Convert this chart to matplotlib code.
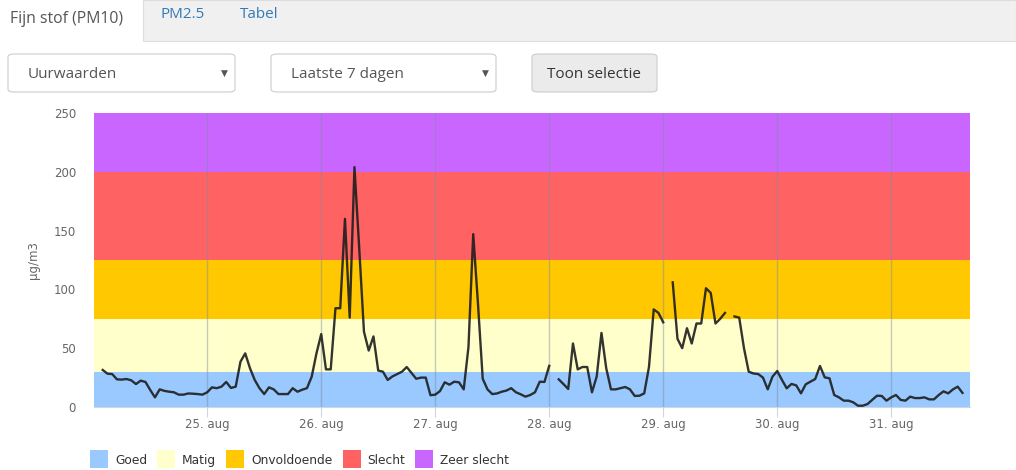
import numpy as np
import pandas as pd
import matplotlib
matplotlib.use('Agg')
import matplotlib.pyplot as plt
from matplotlib.patches import Rectangle, FancyBboxPatch

# hourly PM10 values (µg/m3), first value at 24 aug 02:00, None = no measurement
start = '2016-08-24 02:00'
pm10 = [
    31.5, 28.3, 28, 23.5, 23.3, 23.8, 22.7, 19.5, 22.4, 21.3,
    14.5, 8.2, 15, 13.7, 13, 12.5, 10.5, 10.5, 11.5, 11.3,
    11, 10.5, 12.5, 16.7, 16, 17.3, 21.3, 16.2, 17.3, 38.5,
    45.6, 33, 23, 16, 11, 16.7, 15, 11, 11, 11,
    16, 13, 14.7, 16, 25.8, 45.6, 62, 32, 32, 84,
    84, 160, 76, 204, 135, 64, 48, 60, 31, 30,
    23, 26, 28, 30, 34, 29, 24, 25, 25, 10,
    10.5, 13.5, 21, 19, 21.5, 21, 15, 51, 147, 88,
    24, 15, 11, 11.5, 13, 14, 16, 12.5, 10.8, 8.8,
    10.2, 12.5, 21.5, 21.3, 35, None, 23.5, 19.5, 15.3, 54,
    32, 34, 34, 12.5, 26, 63, 33, 15, 15, 16,
    17, 15, 9.4, 9.6, 11.6, 34, 83, 80, 72, None,
    106, 58, 50, 67, 54, 71, 71, 101, 97, 71,
    75, 80, None, 77, 76, 50, 30, 28.5, 28, 25,
    15, 25.8, 30.6, 23, 15.9, 19.6, 18.4, 11.6, 19.3, 21.5,
    23.8, 34.9, 25.2, 24.4, 10.2, 8.2, 5.4, 5.4, 4, 1.1,
    1.1, 2.5, 6, 9.6, 9.4, 5.4, 8.2, 10.2, 6, 5.4,
    8.8, 7.6, 7.6, 8.2, 6.5, 6.5, 10.2, 13.3, 11.6, 15,
    17.3, 12,
]

band_names = ['Goed', 'Matig', 'Onvoldoende', 'Slecht', 'Zeer slecht']
band_edges = [0, 30, 75, 125, 200, 250]
band_colors = ['#99c9ff', '#ffffcc', '#ffc800', '#ff6262', '#c966ff']

day_ticks = ['2016-08-25', '2016-08-26', '2016-08-27', '2016-08-28',
             '2016-08-29', '2016-08-30', '2016-08-31']
y_ticks = [0, 50, 100, 150, 200, 250]

W, H = 1016, 470
plt.rcParams['font.family'] = ['DejaVu Sans']
fig = plt.figure(figsize=(W / 100, H / 100), dpi=100)


def box(x, y, w, h):
    # pixel box (top-left origin) -> figure fraction
    return x / W, 1 - (y + h) / H, w / W, h / H


# --- page controls above the chart ---
bx, by, bw, bh = box(143, 0, W - 143, 41)
fig.patches.append(Rectangle((bx, by), bw, bh, transform=fig.transFigure,
                             fc='#f0f0f0', ec='#dddddd', lw=0.8))
fig.text(10 / W, 1 - 19 / H, 'Fijn stof (PM10)', fontsize=11.3, color='#555555',
         family='Open Sans', va='center')
fig.text(160 / W, 1 - 14 / H, 'PM2.5', fontsize=11, color='#337ab7',
         family='Open Sans', va='center')
fig.text(240 / W, 1 - 14 / H, 'Tabel', fontsize=11, color='#337ab7',
         family='Open Sans', va='center')

for x0, w0, label in [(8, 227, 'Uurwaarden'), (271, 225, 'Laatste 7 dagen')]:
    bx, by, bw, bh = box(x0, 54, w0, 38)
    fig.patches.append(FancyBboxPatch((bx, by), bw, bh, transform=fig.transFigure,
                                      boxstyle='round,pad=0,rounding_size=0.006',
                                      fc='white', ec='#cccccc', lw=0.8))
    fig.text((x0 + 20) / W, 1 - 74 / H, label, fontsize=11, color='#555555',
             family='Open Sans', va='center')
    fig.text((x0 + w0 - 11) / W, 1 - 73 / H, '▼', fontsize=6.5, color='#555555',
             ha='center', va='center')

bx, by, bw, bh = box(532, 54, 125, 38)
fig.patches.append(FancyBboxPatch((bx, by), bw, bh, transform=fig.transFigure,
                                  boxstyle='round,pad=0,rounding_size=0.006',
                                  fc='#ebebeb', ec='#cccccc', lw=0.8))
fig.text(594 / W, 1 - 74 / H, 'Toon selectie', fontsize=11, color='#333333',
         family='Open Sans', ha='center', va='center')

# --- chart ---
ax = fig.add_axes(box(94, 113, 876, 294))
for lo, hi, c in zip(band_edges[:-1], band_edges[1:], band_colors):
    ax.axhspan(lo, hi, color=c, lw=0, zorder=0)

times = pd.date_range(start, periods=len(pm10), freq='h')
vals = np.array([np.nan if v is None else v for v in pm10], dtype=float)
ax.plot(times, vals, color='#1e1e1e', lw=1.7, alpha=0.9, zorder=3)

ticks = pd.to_datetime(day_ticks)
ax.set_xticks(ticks)
ax.set_xticklabels([f'{d.day}. aug' for d in ticks])
ax.set_xlim(pd.Timestamp('2016-08-24 00:10'), pd.Timestamp('2016-08-31 16:35'))
ax.set_ylim(0, 250)
ax.set_yticks(y_ticks)
ax.grid(axis='x', color='#7f8aa0', alpha=0.45, lw=1, zorder=1)
ax.set_axisbelow(False)

for s in ['top', 'right', 'left']:
    ax.spines[s].set_visible(False)
ax.spines['bottom'].set_color('#ccd6eb')
ax.tick_params(axis='y', length=0, pad=13, labelsize=8.5, labelcolor='#666666')
ax.tick_params(axis='x', length=7, color='#ccd6eb', pad=1, labelsize=8.5,
               labelcolor='#666666')
ax.set_ylabel('µg/m3', fontsize=8.5, color='#666666', labelpad=10)

# legend row below the chart, laid out item by item
renderer = fig.canvas.get_renderer()
x = 90
for name, c in zip(band_names, band_colors):
    bx, by, bw, bh = box(x, 450, 18, 18)
    fig.patches.append(Rectangle((bx, by), bw, bh, transform=fig.transFigure,
                                 fc=c, ec='none'))
    t = fig.text((x + 25) / W, 1 - 464 / H, name, fontsize=8.8, color='#333333',
                 va='baseline')
    x = t.get_window_extent(renderer).x1 + 10

fig.savefig('out.png', dpi=100)
